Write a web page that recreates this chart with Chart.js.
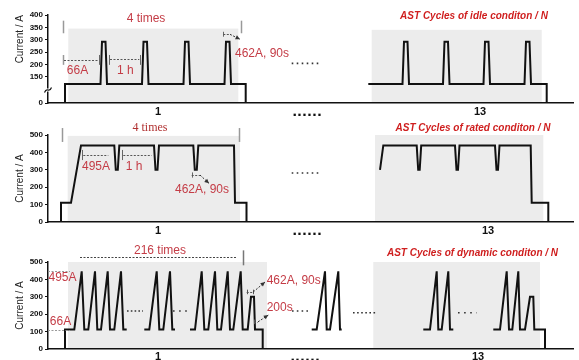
<!DOCTYPE html>
<html>
<head>
<meta charset="utf-8">
<script src="https://cdn.jsdelivr.net/npm/chart.js@4.4.1/dist/chart.umd.min.js"></script>
<style>
html,body{margin:0;padding:0;background:#fff;overflow:hidden;width:579px;height:360px}
canvas{position:absolute;left:0;display:block}
</style>
</head>
<body>
<canvas id="c1" width="579" height="120" style="top:0px"></canvas>
<canvas id="c2" width="579" height="120" style="top:120px"></canvas>
<canvas id="c3" width="579" height="120" style="top:240px"></canvas>
<script>
// ---------- data (schematic time t, current in A as plotted) ----------
const xTickLabels = ['1', '......', '13'];
const xTickPosIdle = [110, 259, 432];
const xTickPosRated = [110, 259, 440];
const xTickPosDyn = [110, 257, 430];

const yTicksIdle = [0, 150, 200, 250, 300, 350, 400];
const yTicksRated = [0, 50, 100, 150, 200, 250, 300, 350, 400, 450, 500];
const yTicksDyn = [0, 50, 100, 150, 200, 250, 300, 350, 400, 450, 500];

const panelTitles = ['AST Cycles of idle conditon / N', 'AST Cycles of rated conditon / N', 'AST Cycles of dynamic conditon / N'];

// idle condition
const idleA_t = [17, 17, 52.5, 54, 57.5, 59, 94, 95.5, 99, 100.5, 135.5, 137, 140.5, 142, 176.5, 178, 181.5, 183, 197.7, 197.7];
const idleA_i = [0, 108, 108, 292, 292, 108, 108, 292, 292, 108, 108, 292, 292, 108, 108, 292, 292, 108, 108, 0];
const idleB_t = [320.3, 354.5, 356, 359.5, 361, 395, 396.5, 400, 401.5, 435.5, 437, 440.5, 442, 476.5, 478, 481.5, 483, 498.7, 498.7];
const idleB_i = [108, 108, 292, 292, 108, 108, 292, 292, 108, 108, 292, 292, 108, 108, 292, 292, 108, 108, 0];

// rated condition
const ratedA_t = [13, 13, 23, 33, 66.3, 67.8, 69.8, 71.3, 106, 107.5, 109.5, 111, 145.3, 146.8, 148.8, 150.3, 186, 187, 198.5, 198.5];
const ratedA_i = [0, 110, 110, 440, 440, 300, 300, 440, 440, 300, 300, 440, 440, 300, 300, 440, 440, 110, 110, 0];
const ratedB_t = [332, 335.3, 368.7, 370.2, 371.7, 373.2, 407, 408.5, 410, 411.5, 447, 448.5, 450, 451.5, 482.7, 483.7, 500.3, 500.3];
const ratedB_i = [300, 440, 440, 300, 300, 440, 440, 300, 300, 440, 440, 300, 300, 440, 440, 110, 110, 0];

// dynamic condition
const dyn1_t = [17, 17, 26.3, 33.7, 36.3, 40.3, 47, 49.3, 53, 59.7, 62, 66.3, 73, 75.3, 78.7];
const dyn1_i = [0, 112, 112, 446, 112, 112, 446, 112, 112, 446, 112, 112, 446, 112, 112];
const dyn2_t = [96.3, 101.3, 108.7, 111.3, 115.3, 122, 124.3, 127];
const dyn2_i = [112, 112, 446, 112, 112, 446, 112, 112];
const dyn3_t = [142, 147, 153.7, 156.3, 160.3, 167, 169.3, 173, 179.7, 182, 185.3, 192.7, 194.7, 199.7, 203, 206, 207, 214.7, 214.7];
const dyn3_i = [112, 112, 446, 112, 112, 446, 112, 112, 446, 112, 112, 446, 112, 112, 300, 300, 112, 112, 0];
const dyn4_t = [263.7, 268.7, 277, 278.7, 282, 290.3, 292, 293.7];
const dyn4_i = [112, 112, 446, 112, 112, 446, 112, 112];
const dyn5_t = [375.3, 382, 388.7, 390.3, 393.7, 400.3, 402, 405.3];
const dyn5_i = [112, 112, 446, 112, 112, 446, 112, 112];
const dyn6_t = [445.3, 452, 458.7, 461, 464.3, 470.3, 472, 477, 482, 485.3, 486.3, 497, 497];
const dyn6_i = [112, 112, 446, 112, 112, 446, 112, 112, 300, 300, 112, 112, 0];

// ---------- styles ----------
const RED = '#c43c46';
const TRED = '#cf1f1f';
const FONT = '"Liberation Sans", Arial, sans-serif';

// ---------- broken y scale (axis break between 0 and 150) ----------
class BrokenLinearScale extends Chart.LinearScale {
  _dec(v) {
    const b = this.options.breakValue, f = this.options.breakFrac;
    return v <= b ? (v - this.min) / (b - this.min) * f : f + (v - b) / (this.max - b) * (1 - f);
  }
  getPixelForValue(v) {
    if (v === null || v === undefined || isNaN(v)) return NaN;
    return this.getPixelForDecimal(this._dec(v));
  }
  getValueForPixel(p) {
    const d = this.getDecimalForPixel(p);
    const b = this.options.breakValue, f = this.options.breakFrac;
    return d <= f ? this.min + d / f * (b - this.min) : b + (d - f) / (1 - f) * (this.max - b);
  }
}
BrokenLinearScale.id = 'brokenLinear';
BrokenLinearScale.defaults = Chart.LinearScale.defaults;
Chart.register(BrokenLinearScale);

function pts(t, i) { return t.map((v, k) => ({x: v, y: i[k]})); }
function wave(t, i) {
  return { data: pts(t, i), borderColor: '#111', borderWidth: 2, pointRadius: 0, tension: 0, fill: false, borderJoinStyle: 'miter', borderCapStyle: 'butt' };
}

function schematic(n) {
  return {
    id: 'schematic',
    beforeDraw(chart) {
      const {ctx} = chart; const xs = chart.scales.x, ys = chart.scales.y;
      ctx.save();
      ctx.fillStyle = '#ececec';
      n.boxes.forEach(([x0, x1, top]) => {
        const a = xs.getPixelForValue(x0), b = xs.getPixelForValue(x1);
        const t = ys.getPixelForValue(top), btm = ys.getPixelForValue(0);
        ctx.fillRect(a, t, b - a, btm - t);
      });
      ctx.restore();
    },
    afterDraw(chart) {
      const {ctx} = chart; const xs = chart.scales.x, ys = chart.scales.y;
      const X = v => xs.getPixelForValue(v), Y = v => ys.getPixelForValue(v);
      ctx.save();
      ctx.lineCap = 'butt';
      (n.bars || []).forEach(([x, y0, y1, col, w]) => {
        ctx.setLineDash([]); ctx.strokeStyle = col; ctx.lineWidth = w;
        ctx.beginPath(); ctx.moveTo(Math.round(X(x)) + 0.5, Y(y0)); ctx.lineTo(Math.round(X(x)) + 0.5, Y(y1)); ctx.stroke();
      });
      (n.dashes || []).forEach(([x0, x1, y, col]) => {
        ctx.setLineDash([2, 1.5]); ctx.strokeStyle = col || '#555'; ctx.lineWidth = 1;
        const yy = Math.round(Y(y)) + 0.5;
        ctx.beginPath(); ctx.moveTo(X(x0), yy); ctx.lineTo(X(x1), yy); ctx.stroke();
      });
      (n.arrows || []).forEach(([x0, y0, x1, y1]) => {
        const a = X(x0), b = Y(y0), c = X(x1), d = Y(y1);
        ctx.setLineDash([2, 1.5]); ctx.strokeStyle = '#333'; ctx.lineWidth = 1;
        ctx.beginPath(); ctx.moveTo(a, b); ctx.lineTo(c, d); ctx.stroke();
        const ang = Math.atan2(d - b, c - a);
        ctx.setLineDash([]); ctx.fillStyle = '#333';
        ctx.beginPath(); ctx.moveTo(c, d);
        ctx.lineTo(c - 5 * Math.cos(ang - 0.45), d - 5 * Math.sin(ang - 0.45));
        ctx.lineTo(c - 5 * Math.cos(ang + 0.45), d - 5 * Math.sin(ang + 0.45));
        ctx.closePath(); ctx.fill();
      });
      (n.dots || []).forEach(([x0, x1, y, gap]) => {
        ctx.setLineDash([1.6, gap]); ctx.strokeStyle = '#333'; ctx.lineWidth = 1.6;
        const yy = Y(y);
        ctx.beginPath(); ctx.moveTo(X(x0), yy); ctx.lineTo(X(x1), yy); ctx.stroke();
      });
      ctx.setLineDash([]);
      (n.texts || []).forEach(o => {
        ctx.font = o.f || ('12px ' + FONT);
        ctx.fillStyle = o.c || RED;
        ctx.textAlign = o.a || 'center';
        ctx.textBaseline = 'middle';
        ctx.fillText(o.t, X(o.x), Y(o.y));
      });
      if (n.brk !== undefined) {
        const L = chart.chartArea.left, yb = Y(n.brk);
        ctx.fillStyle = '#fff'; ctx.fillRect(L - 1.5, yb - 1.5, 3, 3);
        ctx.strokeStyle = '#111'; ctx.lineWidth = 1.2;
        ctx.beginPath(); ctx.moveTo(L - 3.5, yb + 2.5);
        ctx.bezierCurveTo(L - 1, yb - 4, L + 1, yb + 4, L + 3.5, yb - 2.5); ctx.stroke();
      }
      ctx.restore();
    }
  };
}

function build(id, o) {
  const yScale = {
    type: o.yType, min: 0, max: o.yMax,
    afterBuildTicks: s => { s.ticks = o.yTicks.map(v => ({value: v})); },
    afterFit: s => { s.width = 48; },
    grid: { display: true, drawOnChartArea: false, drawTicks: true, tickLength: 3, color: '#111', tickWidth: 1 },
    border: { display: true, color: '#111', width: 1.5 },
    ticks: { padding: 2, color: '#111', font: { family: FONT, size: 8, weight: 'bold' }, callback: o.yLabel },
    title: { display: true, text: 'Current / A', color: '#222', font: { family: FONT, size: 10 }, padding: { top: 14, bottom: 0 }, align: o.titleAlign }
  };
  if (o.brk) { yScale.breakValue = o.brk[0]; yScale.breakFrac = o.brk[1]; }
  return new Chart(document.getElementById(id), {
    type: 'line',
    data: { datasets: o.series.map(s => wave(s[0], s[1])) },
    options: {
      responsive: false, animation: false, events: [],
      layout: { padding: { left: 0, right: 6, top: o.top, bottom: 0 } },
      plugins: { legend: { display: false }, tooltip: { enabled: false } },
      scales: {
        x: {
          type: 'linear', min: 0, max: 525,
          afterBuildTicks: s => { s.ticks = o.xTicks.map(v => ({value: v})); },
          afterFit: s => { s.height = o.xH; },
          grid: { display: false, drawTicks: false },
          border: { display: true, color: '#111', width: 1.5 },
          ticks: {
            autoSkip: false, maxRotation: 0, minRotation: 0, padding: o.xPad, color: '#111',
            callback: (v, k) => xTickLabels[k],
            font: c => c.index === 1 ? { family: '"DejaVu Sans"', size: 13, weight: 'bold' } : { family: FONT, size: 11, weight: 'bold' }
          }
        },
        y: yScale
      }
    },
    plugins: [schematic(o.notes)]
  });
}

const titleFont = 'italic bold 10px ' + FONT;

build('c1', {
  yType: 'brokenLinear', yMax: 400, brk: [150, 0.299], yTicks: yTicksIdle, yLabel: v => String(v),
  titleAlign: 'end', top: 15, xH: 17, xPad: 2, xTicks: xTickPosIdle,
  series: [[idleA_t, idleA_i], [idleB_t, idleB_i]],
  notes: {
    boxes: [[20.3, 190.3, 345], [323.7, 493.7, 340]],
    bars: [[14.7, 326, 377, '#999', 1.5], [192.7, 326, 377, '#999', 1.5], [14.7, 198, 238, '#999', 1.5],
           [51, 198, 238, '#666', 1], [61.3, 198, 238, '#666', 1], [91.7, 198, 238, '#666', 1], [175.3, 312, 332, '#666', 1]],
    dashes: [[16, 50.3, 217.6], [62, 91.3, 220.5], [175.3, 182, 321.7]],
    arrows: [[182, 321.7, 192, 301.6]],
    dots: [[243.7, 273.7, 204, 3.4]],
    texts: [
      { t: '4 times', x: 98, y: 384 },
      { t: '66A', x: 29.5, y: 173 },
      { t: '1 h', x: 77.3, y: 173 },
      { t: '462A, 90s', x: 187, y: 245, a: 'left' },
      { t: panelTitles[0], x: 426, y: 396, f: titleFont, c: TRED }
    ],
    brk: 74
  }
});

build('c2', {
  yType: 'linear', yMax: 500, yTicks: yTicksRated, yLabel: v => (v % 100 === 0 ? String(v) : ''),
  titleAlign: 'center', top: 15, xH: 18, xPad: 2, xTicks: xTickPosRated,
  series: [[ratedA_t, ratedA_i], [ratedB_t, ratedB_i]],
  notes: {
    boxes: [[19.7, 192, 495], [327, 495.3, 500]],
    bars: [[13.7, 460, 540, '#999', 1.5], [191, 460, 540, '#999', 1.5], [34.3, 356, 414, '#666', 1], [73.7, 356, 414, '#666', 1], [143.7, 255, 285, '#666', 1]],
    dashes: [[35.3, 60.3, 385], [75.3, 103.7, 385], [143.7, 152, 270]],
    arrows: [[152, 270, 161, 222]],
    dots: [[243.7, 273.7, 282, 3.4]],
    texts: [
      { t: '4 times', x: 102, y: 540, f: '12px "Liberation Serif", "Times New Roman", serif', c: '#b03030' },
      { t: '495A', x: 48, y: 316 },
      { t: '1 h', x: 86, y: 316 },
      { t: '462A, 90s', x: 154, y: 184 },
      { t: panelTitles[1], x: 425, y: 540, f: titleFont, c: TRED }
    ]
  }
});

build('c3', {
  yType: 'linear', yMax: 500, yTicks: yTicksDyn, yLabel: v => (v % 100 === 0 ? String(v) : ''),
  titleAlign: 'center', top: 22, xH: 11, xPad: 1, xTicks: xTickPosDyn,
  series: [[dyn1_t, dyn1_i], [dyn2_t, dyn2_i], [dyn3_t, dyn3_i], [dyn4_t, dyn4_i], [dyn5_t, dyn5_i], [dyn6_t, dyn6_i]],
  notes: {
    boxes: [[20, 219, 500], [325.3, 492, 500]],
    bars: [[194.7, 481, 567, '#777', 1.5], [198.7, 315, 341, '#555', 1], [205.3, 315, 341, '#555', 1], [206, 143, 169, '#555', 1]],
    dashes: [[32, 188.7, 529, '#444'], [0, 22, 446, '#999'], [0, 22, 112, '#999'], [198.7, 205.3, 328], [206, 210, 156]],
    arrows: [[205.3, 328, 217, 385], [210, 156, 220.3, 195]],
    dots: [[79, 95, 218, 2.2], [125, 142, 218, 4.5], [244, 262, 218, 3.2], [305, 328.7, 208, 2.5], [410, 428.7, 208, 4.5]],
    texts: [
      { t: '216 times', x: 112, y: 567 },
      { t: '495A', x: 14.5, y: 407 },
      { t: '66A', x: 12.5, y: 156 },
      { t: '462A, 90s', x: 218.7, y: 395, a: 'left' },
      { t: '200s', x: 218.7, y: 235, a: 'left' },
      { t: panelTitles[2], x: 424.5, y: 550, f: titleFont, c: TRED }
    ]
  }
});
</script>
</body>
</html>
